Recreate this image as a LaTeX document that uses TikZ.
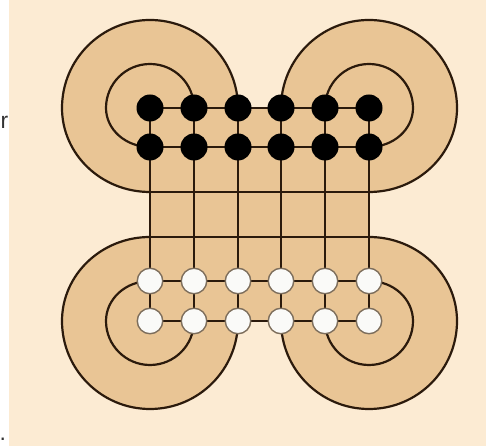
\documentclass[tikz,border=0pt]{standalone}
\usepackage{fontspec}
\setmainfont{Liberation Sans}
\usetikzlibrary{backgrounds}
\definecolor{cream}{HTML}{FCEBD3}
\definecolor{boardtan}{HTML}{E9C595}
\definecolor{ink}{HTML}{2B1A0C}
\definecolor{ringgray}{HTML}{7D6E5C}
\definecolor{pearl}{HTML}{FAFAF8}
\definecolor{textgray}{HTML}{333333}
\begin{document}
\begin{tikzpicture}[x=1bp,y=1bp,line join=round,
  bdot/.style={circle,fill=black,inner sep=0pt,minimum size=27bp},
  wdot/.style={circle,fill=pearl,draw=ringgray,line width=1.4bp,inner sep=0pt,minimum size=25.5bp},
  gline/.style={draw=ink,line width=2.2bp},
  lbl/.style={font=\fontsize{23}{23}\selectfont,text=textgray,inner sep=0pt}]
\useasboundingbox (0,0) rectangle (486,446);
% dots
\foreach \x [count=\i] in {150,194,238,281,325,369} {
  \node[bdot] (ba\i) at (\x,338) {};
  \node[bdot] (bb\i) at (\x,299) {};
  \node[wdot] (wa\i) at (\x,165) {};
  \node[wdot] (wb\i) at (\x,125) {};
}
\coordinate (hTL) at (150,254);
\coordinate (hTR) at (369,254);
\coordinate (hBL) at (150,209);
\coordinate (hBR) at (369,209);
\begin{scope}[on background layer]
  \fill[cream] (9,0) rectangle (486,446);
  % tan board
  \fill[boardtan] (ba3.center) -- (ba4.center)
     arc[start angle=180,end angle=0,radius=88]
     arc[start angle=0,end angle=-90,x radius=88,y radius=84]
     -- (hBR)
     arc[start angle=90,end angle=0,x radius=88,y radius=84]
     arc[start angle=0,end angle=-180,radius=88]
     -- (wb3.center)
     arc[start angle=360,end angle=180,radius=88]
     arc[start angle=180,end angle=90,x radius=88,y radius=84]
     -- (hTL)
     arc[start angle=270,end angle=180,x radius=88,y radius=84]
     arc[start angle=180,end angle=0,radius=88]
     -- cycle;
  % spirals
  \draw[gline] (ba3.center) arc[start angle=0,end angle=180,radius=88]
     arc[start angle=180,end angle=270,x radius=88,y radius=84];
  \draw[gline] (ba2.center) arc[start angle=0,end angle=180,radius=44]
     arc[start angle=180,end angle=270,x radius=44,y radius=39];
  \draw[gline] (ba4.center) arc[start angle=180,end angle=0,radius=88]
     arc[start angle=0,end angle=-90,x radius=88,y radius=84];
  \draw[gline] (ba5.center) arc[start angle=180,end angle=0,radius=44]
     arc[start angle=0,end angle=-90,x radius=44,y radius=39];
  \draw[gline] (hBL) arc[start angle=90,end angle=180,x radius=88,y radius=84]
     arc[start angle=180,end angle=360,radius=88];
  \draw[gline] (wa1.center) arc[start angle=90,end angle=180,x radius=44,y radius=40]
     arc[start angle=180,end angle=360,radius=44];
  \draw[gline] (hBR) arc[start angle=90,end angle=0,x radius=88,y radius=84]
     arc[start angle=0,end angle=-180,radius=88];
  \draw[gline] (wa6.center) arc[start angle=90,end angle=0,x radius=44,y radius=40]
     arc[start angle=0,end angle=-180,radius=44];
  % grid
  \foreach \i in {1,...,6} { \draw[gline] (ba\i.center) -- (wb\i.center); }
  \draw[gline] (ba1.center) -- (ba6.center);
  \draw[gline] (bb1.center) -- (bb6.center);
  \draw[gline] (wa1.center) -- (wa6.center);
  \draw[gline] (wb1.center) -- (wb6.center);
  \draw[gline] (hTL) -- (hTR);
  \draw[gline] (hBL) -- (hBR);
\end{scope}
\node[lbl,anchor=base east] (t1) at (8.5,317) {r};
\node[lbl,anchor=base west] (t2) at (-0.5,5) {.};
\end{tikzpicture}
\end{document}
